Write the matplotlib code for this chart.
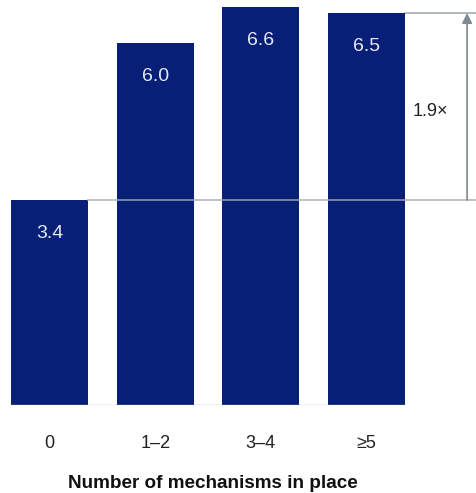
import matplotlib
matplotlib.use("Agg")
import matplotlib.pyplot as plt

categories = ["0", "1–2", "3–4", "≥5"]
values = [3.4, 6.0, 6.6, 6.5]
value_labels = ["3.4", "6.0", "6.6", "6.5"]
ratio_label = "1.9×"
xlabel = "Number of mechanisms in place"

BAR = "#081F78"
GRID = "#A3AAB0"
ARROW = "#7E8991"

plt.rcParams['font.family'] = ['Liberation Sans', 'DejaVu Sans']

fig = plt.figure(figsize=(4.77, 4.93), dpi=100)
ax = fig.add_axes([0, 88/493, 1, 405/493])
ax.set_xlim(-49.5/105.7, (477-49.5)/105.7)
ax.set_ylim(0, 405/60.3)
ax.axis('off')

x = list(range(len(categories)))
w = 0.728
ax.bar(x, values, width=w, color=BAR, zorder=2)
ax.plot([x[0]-w/2, x[-1]+w/2], [0, 0], color=GRID, lw=1, zorder=3)

for xi, v, lab in zip(x, values, value_labels):
    ax.text(xi, v - 0.55, lab, ha='center', va='center', color='#E6E9F2', fontsize=14)

xr = ax.get_xlim()[1]
ax.plot([x[0]+w/2, xr], [values[0], values[0]], color=GRID, lw=1.2, zorder=3, alpha=0.85)
ax.plot([x[-1]+w/2, xr], [values[-1], values[-1]], color=GRID, lw=1.2, zorder=1)

xa = x[-1] + (467-366.5)/105.7
ax.annotate('', xy=(xa, values[-1]), xytext=(xa, values[0]),
            arrowprops=dict(arrowstyle='-|>,head_length=0.6,head_width=0.3', color=ARROW, lw=1.2,
                            shrinkA=0, shrinkB=0))
ax.text(x[-1] + (413-366.5)/105.7, (values[0]+values[-1])/2 - 0.08, ratio_label,
        ha='left', va='center', fontsize=13, color='#222222')

for xi, c in zip(x, categories):
    fig.text((49.5 + xi*105.7)/477, 1-444/493, c, ha='center', va='center', fontsize=13, color='#222222')

fig.text(213/477, 1-484/493, xlabel, ha='center', va='center', fontsize=13.6, fontweight='bold', color='#111111')

fig.savefig("out.png", dpi=100)
